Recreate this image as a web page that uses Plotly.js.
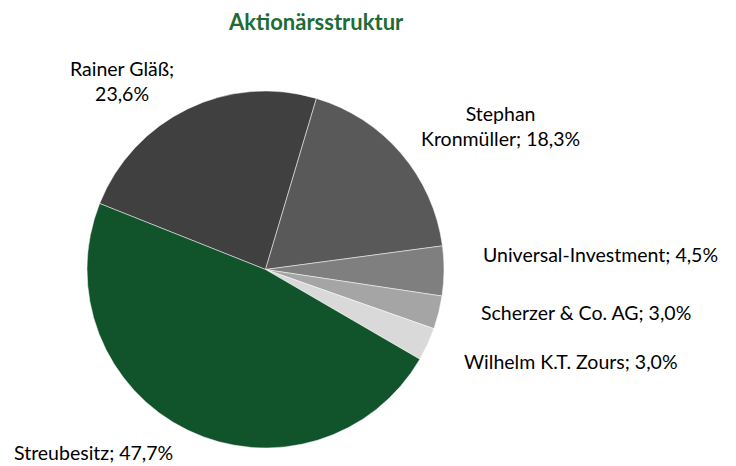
<!DOCTYPE html>
<html>
<head>
<meta charset="utf-8">
<script src="https://cdn.plot.ly/plotly-3.0.1.min.js"></script>
<style>html,body{margin:0;padding:0;background:#fff;}#chart{width:736px;height:466px;}</style>
</head>
<body>
<div id="chart"></div>
<script>
// Data
var shareholders = ["Rainer Gläß", "Stephan Kronmüller", "Universal-Investment", "Scherzer & Co. AG", "Wilhelm K.T. Zours", "Streubesitz"];
var shares = [23.6, 18.3, 4.5, 3.0, 3.0, 47.7];
var sliceColors = ["#404040", "#595959", "#7f7f7f", "#a5a5a5", "#d9d9d9", "#11532b"];
var chartTitle = "Aktionärsstruktur";

// Label layout (positions only)
var labelPos = [
  {x: 122, y: 81, split: "value"},
  {x: 500, y: 126, split: "name"},
  {x: 600.5, y: 255},
  {x: 585.5, y: 312},
  {x: 570.5, y: 361},
  {x: 93, y: 452}
];

function fmt(v) { return v.toFixed(1).replace(".", ",") + "%"; }

var W = 736, H = 466;
var annotations = shareholders.map(function (name, i) {
  var p = labelPos[i];
  var txt;
  if (p.split === "value") txt = name + ";<br>" + fmt(shares[i]);
  else if (p.split === "name") {
    var parts = name.split(" ");
    txt = parts[0] + "<br>" + parts.slice(1).join(" ") + "; " + fmt(shares[i]);
  } else txt = name + "; " + fmt(shares[i]);
  return {
    text: txt, xref: "paper", yref: "paper",
    x: p.x / W, y: 1 - p.y / H, xanchor: "center", yanchor: "middle",
    showarrow: false, align: "center",
    font: {family: "Lato, 'Open Sans', sans-serif", size: 19.5, color: "#000"}
  };
});
annotations.push({
  text: "<b>" + chartTitle + "</b>", xref: "paper", yref: "paper",
  x: 315.5 / W, y: 1 - 22 / H, xanchor: "center", yanchor: "middle",
  showarrow: false,
  font: {family: "Lato, 'Open Sans', sans-serif", size: 22, color: "#1e6b35"}
});

var cx = 265.5, cy = 269.5, r = 178.5;
var trace = {
  type: "pie",
  labels: shareholders,
  values: shares,
  sort: false,
  direction: "clockwise",
  rotation: -68.3,
  textinfo: "none",
  marker: {colors: sliceColors, line: {color: "#ffffff", width: 0.5}},
  domain: {x: [(cx - r) / W, (cx + r) / W], y: [1 - (cy + r) / H, 1 - (cy - r) / H]},
  showlegend: false
};

Plotly.newPlot("chart", [trace], {
  width: W, height: H,
  margin: {l: 0, r: 0, t: 0, b: 0},
  paper_bgcolor: "#fff",
  showlegend: false,
  annotations: annotations
}, {displayModeBar: false, staticPlot: true});
</script>
</body>
</html>
